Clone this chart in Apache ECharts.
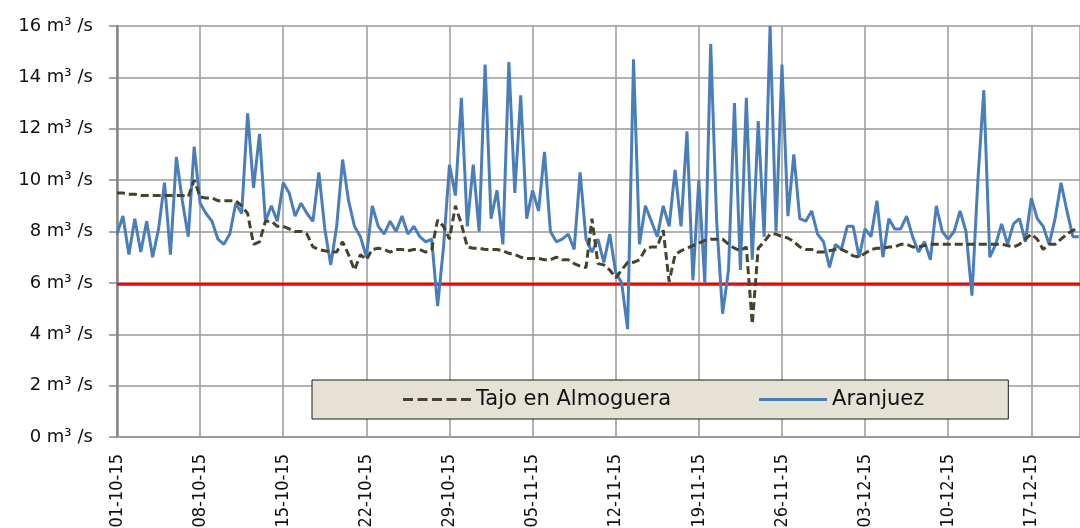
<!DOCTYPE html>
<html>
<head>
<meta charset="utf-8">
<script src="https://cdn.jsdelivr.net/npm/echarts@6/dist/echarts.min.js"></script>
<style>
  html, body { margin: 0; padding: 0; background: #ffffff; }
  #chart { width: 1080px; height: 528px; }
</style>
</head>
<body>
<div id="chart"></div>
<script>
// Week tick labels (x axis, one every 7 days starting 01-10-15)
const xTickLabels = ['01-10-15','08-10-15','15-10-15','22-10-15','29-10-15','05-11-15',
  '12-11-15','19-11-15','26-11-15','03-12-15','10-12-15','17-12-15'];
const yTickNumbers = ['0','2','4','6','8','10','12','14','16'];
const yUnit = ['m³', '/s'];

// Samples every half day from 01-10-15
const sampleStepDays = 0.5;
const lastDay = 81.1;

// Aranjuez flow (m3/s)
const aranjuez = [
  7.9, 8.6, 7.1, 8.5, 7.2, 8.4, 7.0, 8.1, 9.9, 7.1,
  10.9, 9.2, 7.8, 11.3, 9.1, 8.7, 8.4, 7.7, 7.5, 7.9,
  9.1, 8.7, 12.6, 9.7, 11.8, 8.4, 9.0, 8.4, 9.9, 9.5,
  8.6, 9.1, 8.7, 8.4, 10.3, 8.1, 6.7, 8.2, 10.8, 9.2,
  8.2, 7.8, 7.0, 9.0, 8.2, 7.9, 8.4, 8.0, 8.6, 7.9,
  8.2, 7.8, 7.6, 7.7, 5.1, 7.4, 10.6, 9.4, 13.2, 8.2,
  10.6, 8.0, 14.5, 8.5, 9.6, 7.5, 14.6, 9.5, 13.3, 8.5,
  9.6, 8.8, 11.1, 8.0, 7.6, 7.7, 7.9, 7.3, 10.3, 7.7,
  7.2, 7.7, 6.8, 7.9, 6.4, 6.0, 4.2, 14.7, 7.5, 9.0,
  8.4, 7.8, 9.0, 8.2, 10.4, 8.2, 11.9, 6.1, 10.0, 6.0,
  15.3, 8.4, 4.8, 6.5, 13.0, 6.5, 13.2, 6.9, 12.3, 7.8,
  16.0, 8.0, 14.5, 8.6, 11.0, 8.5, 8.4, 8.8, 7.9, 7.6,
  6.6, 7.5, 7.3, 8.2, 8.2, 7.0, 8.1, 7.8, 9.2, 7.0,
  8.5, 8.1, 8.1, 8.6, 7.8, 7.2, 7.6, 6.9, 9.0, 8.0,
  7.7, 8.0, 8.8, 8.0, 5.5, 10.0, 13.5, 7.0, 7.5, 8.3,
  7.5, 8.3, 8.5, 7.6, 9.3, 8.5, 8.2, 7.5, 8.5, 9.9,
  8.8, 7.8, 7.8
];

// Tajo en Almoguera flow (m3/s)
const almoguera = [
  9.5, 9.5, 9.45, 9.45, 9.4, 9.4, 9.4, 9.4, 9.4, 9.4,
  9.4, 9.4, 9.35, 10.0, 9.35, 9.3, 9.3, 9.2, 9.2, 9.2,
  9.2, 9.0, 8.7, 7.5, 7.6, 8.4, 8.4, 8.2, 8.2, 8.1,
  8.0, 8.0, 7.9, 7.4, 7.3, 7.25, 7.2, 7.2, 7.6, 7.1,
  6.5, 7.1, 6.9, 7.3, 7.35, 7.3, 7.2, 7.3, 7.3, 7.25,
  7.3, 7.3, 7.2, 7.3, 8.45, 8.2, 7.7, 9.0, 8.3, 7.4,
  7.35, 7.35, 7.3, 7.3, 7.3, 7.25, 7.15, 7.1, 7.0, 6.95,
  6.95, 6.95, 6.9, 6.9, 7.0, 6.9, 6.9, 6.75, 6.65, 6.6,
  8.5, 6.75, 6.7, 6.5, 6.2, 6.5, 6.8, 6.8, 6.9, 7.3,
  7.4, 7.4, 8.05, 6.05, 7.1, 7.25, 7.35, 7.45, 7.55, 7.65,
  7.7, 7.7, 7.7, 7.5, 7.35, 7.25, 7.4, 4.4, 7.35, 7.6,
  7.9, 7.9, 7.8, 7.75, 7.6, 7.4, 7.3, 7.3, 7.2, 7.2,
  7.25, 7.3, 7.3, 7.2, 7.05, 7.0, 7.15, 7.3, 7.35, 7.35,
  7.4, 7.4, 7.5, 7.5, 7.4, 7.4, 7.45, 7.5, 7.5, 7.5,
  7.5, 7.5, 7.5, 7.5, 7.5, 7.5, 7.5, 7.5, 7.5, 7.5,
  7.45, 7.4, 7.5, 7.7, 7.9, 7.7, 7.3, 7.5, 7.5, 7.7,
  7.9, 8.05, 8.1
];

// Minimum flow reference line (m3/s)
const minFlowDays = [0, 81.1];
const minFlowValues = [5.95, 5.95];

const toPairs = arr => arr.map((v, i) => [i * sampleStepDays, v]);

const dashIcon = 'path://M0 0H10V3H0Z M14.5 0H24.5V3H14.5Z M29 0H39V3H29Z M43.5 0H53.5V3H43.5Z M58 0H68V3H58Z';
const solidIcon = 'path://M0 0H68V3H0Z';

const chart = echarts.init(document.getElementById('chart'), null, { renderer: 'canvas' });
chart.setOption({
  animation: false,
  backgroundColor: '#ffffff',
  grid: { left: 117, top: 26, right: 0, bottom: 91, containLabel: false, outerBoundsMode: 'none' },
  legend: {
    data: [
      { name: 'Tajo en Almoguera', icon: dashIcon, itemStyle: { color: '#47422c' } },
      { name: 'Aranjuez', icon: solidIcon, itemStyle: { color: '#4a7ebb' } }
    ],
    left: 312, top: 380,
    padding: [9, 84, 9, 91],
    itemGap: 88,
    itemWidth: 68,
    itemHeight: 3,
    selectedMode: false,
    backgroundColor: '#e5e2d5',
    borderColor: '#1a1a1a',
    borderWidth: 1,
    borderRadius: 0,
    textStyle: { fontFamily: 'DejaVu Sans', fontSize: 21, color: '#111' }
  },
  xAxis: {
    type: 'value',
    min: 0, max: lastDay, interval: 7,
    axisLine: { show: true, lineStyle: { color: '#9a9a9a', width: 2 } },
    axisTick: { show: false },
    splitLine: { show: true, lineStyle: { color: '#9a9a9a', width: 1.5 } },
    axisLabel: {
      rotate: 90,
      margin: 17,
      fontFamily: "'DejaVu Sans Condensed', sans-serif",
      fontSize: 18,
      color: '#111',
      formatter: v => {
        const k = v / 7;
        return Math.abs(k - Math.round(k)) < 1e-6 && xTickLabels[Math.round(k)] ? xTickLabels[Math.round(k)] : '';
      }
    }
  },
  yAxis: {
    type: 'value',
    min: 0, max: 16, interval: 2,
    axisLine: { show: true, lineStyle: { color: '#868686', width: 2.5 } },
    axisTick: { show: true, length: 8, lineStyle: { color: '#868686', width: 1.5 } },
    splitLine: { show: true, lineStyle: { color: '#9a9a9a', width: 1.5 } },
    axisLabel: {
      margin: 24,
      fontFamily: 'DejaVu Sans',
      fontSize: 18,
      color: '#111',
      formatter: v => yTickNumbers[Math.round(v / 2)] + ' ' + yUnit[0] + '{u|' + yUnit[1] + '}',
      rich: {
        u: { fontFamily: 'DejaVu Sans', fontSize: 18, color: '#111', padding: [0, 0, 0, 6] }
      }
    }
  },
  series: [
    {
      name: 'Caudal mínimo',
      type: 'line',
      symbol: 'none',
      data: minFlowDays.map((d, i) => [d, minFlowValues[i]]),
      lineStyle: { color: '#ff0000', width: 3 },
      itemStyle: { color: '#ff0000' },
      z: 2
    },
    {
      name: 'Aranjuez',
      type: 'line',
      symbol: 'none',
      data: toPairs(aranjuez),
      lineStyle: { color: '#4a7ebb', width: 3 },
      itemStyle: { color: '#4a7ebb' },
      z: 3
    },
    {
      name: 'Tajo en Almoguera',
      type: 'line',
      symbol: 'none',
      data: toPairs(almoguera),
      lineStyle: { color: '#47422c', width: 3, type: [8, 4] },
      itemStyle: { color: '#47422c' },
      z: 4
    }
  ]
});
</script>
</body>
</html>
